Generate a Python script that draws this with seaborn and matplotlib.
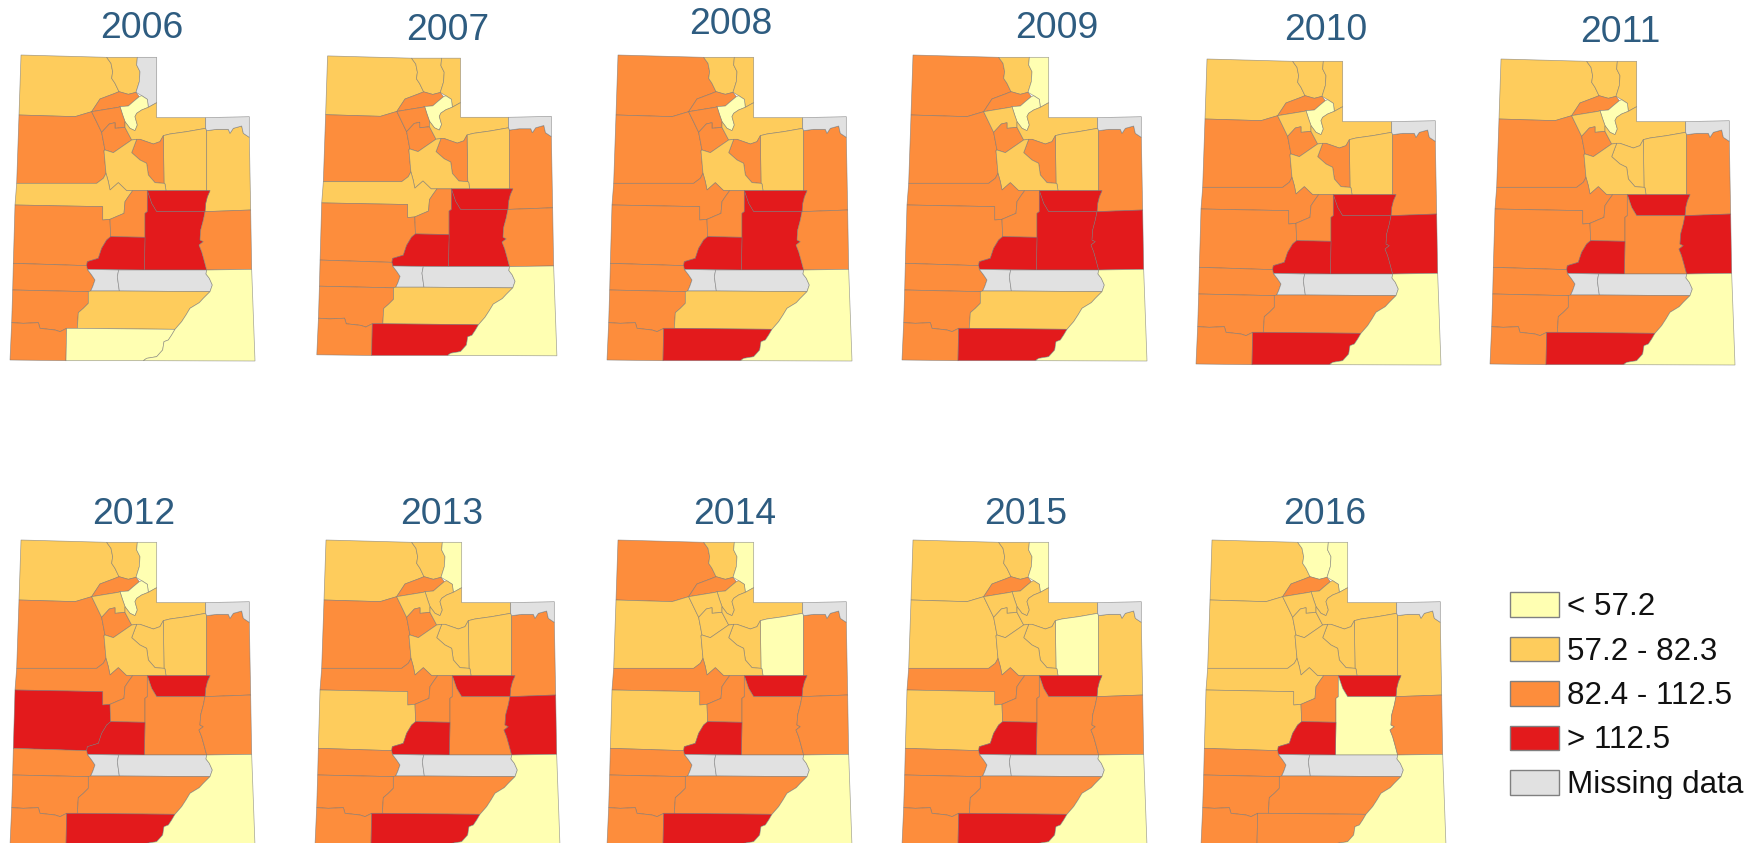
import matplotlib

matplotlib.use("Agg")
import matplotlib.pyplot as plt
import seaborn as sns
from matplotlib.transforms import Bbox

W, H = 1753, 843

years = [2006, 2007, 2008, 2009, 2010, 2011, 2012, 2013, 2014, 2015, 2016]
class_labels = ["< 57.2", "57.2 - 82.3", "82.4 - 112.5", "> 112.5", "Missing data"]
class_colors = ["#ffffb2", "#fecc5c", "#fd8d3c", "#e31a1c", "#e1e1e1"]

# county outlines (3x pixels)
county_names = [
    "box_elder", "cache", "rich", "weber", "davis", "tooele", "west_mid", "utah_w",
    "summit", "duchesne", "uintah", "daggett", "wasatch", "juab", "millard", "beaver",
    "sevier", "carbon", "emery", "grand", "wayne", "iron_a", "iron_b", "iron_c",
    "gray_w", "gray_e", "kane_n", "kane_s", "san_juan",
]
outlines = {
    "box_elder": [(63, 165), (320, 172), (333, 190), (338, 215), (335, 235), (345, 250), (357, 275), (345, 280), (300, 297), (275, 335), (225, 350), (57, 345)],
    "cache": [(320, 172), (412, 172), (410, 195), (420, 215), (418, 245), (408, 277), (385, 283), (357, 275), (345, 250), (335, 235), (338, 215), (333, 190)],
    "rich": [(412, 172), (470, 172), (470, 308), (445, 322), (442, 298), (425, 287), (408, 277), (418, 245), (420, 215), (410, 195)],
    "weber": [(300, 297), (345, 280), (357, 275), (385, 283), (408, 277), (418, 290), (400, 305), (385, 318), (360, 320), (355, 322), (275, 335)],
    "davis": [(360, 320), (385, 318), (400, 305), (418, 290), (425, 287), (442, 298), (445, 322), (425, 330), (410, 340), (405, 350), (412, 375), (405, 392), (390, 385), (375, 365), (368, 345)],
    "tooele": [(57, 345), (225, 350), (275, 335), (305, 397), (315, 450), (312, 452), (318, 520), (310, 535), (290, 550), (50, 550)],
    "west_mid": [(275, 335), (355, 322), (360, 320), (368, 345), (375, 365), (375, 382), (345, 385), (345, 368), (328, 372), (305, 397)],
    "utah_w": [(305, 397), (328, 372), (345, 368), (345, 385), (375, 382), (395, 420), (340, 458), (315, 450)],
    "summit": [(445, 322), (470, 308), (470, 353), (617, 353), (617, 385), (560, 395), (510, 402), (490, 407), (480, 425), (460, 432), (420, 418), (410, 418), (395, 420), (375, 382), (375, 365), (390, 385), (405, 392), (412, 375), (405, 350), (410, 340), (425, 330)],
    "duchesne": [(490, 407), (510, 402), (560, 395), (617, 385), (620, 392), (620, 572), (498, 572), (495, 552), (492, 550)],
    "uintah": [(620, 392), (650, 388), (685, 388), (690, 400), (700, 385), (725, 378), (730, 400), (748, 412), (752, 630), (615, 635), (617, 610), (622, 590), (630, 572), (620, 572)],
    "daggett": [(617, 353), (748, 350), (748, 412), (730, 400), (725, 378), (700, 385), (690, 400), (685, 388), (650, 388), (620, 392), (617, 385)],
    "wasatch": [(410, 418), (420, 418), (460, 432), (480, 425), (490, 407), (492, 550), (465, 548), (445, 525), (440, 490), (420, 480), (395, 458)],
    "juab": [(312, 452), (315, 450), (340, 458), (395, 420), (410, 418), (395, 458), (420, 480), (440, 490), (445, 525), (465, 548), (492, 550), (495, 552), (498, 572), (380, 572), (355, 548), (330, 570), (325, 545), (318, 520)],
    "millard": [(50, 550), (290, 550), (310, 535), (318, 520), (325, 545), (330, 570), (355, 548), (380, 572), (398, 572), (385, 590), (375, 605), (372, 640), (330, 658), (308, 660), (308, 620), (45, 615)],
    "beaver": [(45, 615), (308, 620), (308, 660), (330, 658), (332, 710), (320, 720), (305, 745), (295, 775), (262, 785), (260, 797), (40, 790)],
    "sevier": [(398, 572), (442, 572), (442, 635), (435, 640), (435, 712), (332, 710), (330, 658), (372, 640), (375, 605), (385, 590)],
    "carbon": [(442, 572), (630, 572), (622, 590), (617, 610), (615, 635), (470, 635), (455, 610)],
    "emery": [(442, 572), (455, 610), (470, 635), (615, 635), (610, 660), (602, 690), (600, 720), (610, 725), (597, 735), (605, 755), (612, 780), (620, 810), (433, 810), (435, 712), (435, 640), (442, 635)],
    "grand": [(615, 635), (752, 630), (755, 808), (620, 810), (612, 780), (605, 755), (597, 735), (610, 725), (600, 720), (602, 690), (610, 660)],
    "wayne": [(332, 710), (435, 712), (433, 810), (262, 808), (260, 797), (262, 785), (295, 775), (305, 745), (320, 720)],
    "iron_a": [(40, 790), (260, 797), (262, 808), (275, 825), (285, 840), (278, 860), (272, 873), (265, 875), (38, 870)],
    "iron_b": [(38, 870), (265, 875), (265, 910), (250, 925), (235, 938), (232, 985), (200, 985), (180, 995), (165, 990), (120, 985), (115, 968), (70, 970), (35, 968)],
    "iron_c": [(35, 968), (70, 970), (115, 968), (120, 985), (165, 990), (180, 995), (200, 985), (198, 1082), (30, 1080)],
    "gray_w": [(262, 808), (356, 810), (352, 830), (358, 873), (272, 873), (278, 860), (285, 840), (275, 825)],
    "gray_e": [(356, 810), (433, 810), (620, 810), (618, 822), (628, 835), (637, 855), (630, 875), (358, 873), (352, 830)],
    "kane_n": [(265, 875), (272, 873), (358, 873), (630, 875), (610, 895), (598, 908), (570, 925), (558, 945), (545, 965), (525, 988), (232, 985), (235, 938), (250, 925), (265, 910)],
    "kane_s": [(200, 985), (232, 985), (525, 988), (515, 1005), (505, 1020), (492, 1025), (488, 1050), (470, 1070), (440, 1075), (430, 1082), (198, 1082)],
    "san_juan": [(620, 810), (755, 808), (765, 1083), (430, 1082), (440, 1075), (470, 1070), (488, 1050), (492, 1025), (505, 1020), (515, 1005), (525, 988), (545, 965), (558, 945), (570, 925), (598, 908), (610, 895), (630, 875), (637, 855), (628, 835), (618, 822)],
}

# rate class per county, same order as county_names (0-3 classes, 4 missing)
classes_2006 = [1, 1, 4, 2, 0, 2, 2, 2, 1, 1, 1, 4, 2, 1, 1, 2, 2, 3, 3, 2, 3, 2, 2, 2, 4, 4, 1, 0, 0]
classes_2007 = [1, 1, 1, 2, 0, 2, 2, 2, 1, 1, 2, 4, 2, 1, 1, 2, 2, 3, 3, 2, 3, 2, 2, 2, 4, 4, 1, 3, 0]
classes_2008 = [2, 1, 1, 2, 0, 2, 2, 2, 1, 1, 2, 4, 2, 1, 2, 2, 2, 3, 3, 2, 3, 2, 2, 2, 4, 4, 1, 3, 0]
classes_2009 = [2, 1, 0, 2, 0, 2, 1, 2, 1, 1, 2, 4, 2, 1, 2, 2, 2, 3, 3, 3, 3, 2, 2, 2, 4, 4, 1, 3, 0]
classes_2010 = [1, 1, 1, 2, 0, 2, 1, 2, 1, 1, 2, 4, 2, 1, 2, 2, 2, 3, 3, 3, 3, 2, 2, 2, 4, 4, 2, 3, 0]
classes_2011 = [1, 1, 1, 2, 0, 2, 1, 2, 1, 1, 2, 4, 1, 1, 2, 2, 2, 3, 2, 3, 3, 2, 2, 2, 4, 4, 2, 3, 0]
classes_2012 = [1, 1, 0, 2, 0, 2, 1, 2, 1, 1, 2, 4, 1, 1, 2, 3, 2, 3, 2, 2, 3, 2, 2, 2, 4, 4, 2, 3, 0]
classes_2013 = [1, 1, 0, 2, 1, 2, 1, 2, 1, 1, 2, 4, 1, 1, 2, 1, 2, 3, 2, 3, 3, 2, 2, 2, 4, 4, 2, 3, 0]
classes_2014 = [2, 1, 0, 2, 1, 1, 1, 1, 1, 0, 2, 4, 1, 1, 2, 1, 2, 3, 2, 2, 3, 2, 2, 2, 4, 4, 2, 3, 0]
classes_2015 = [1, 1, 0, 2, 1, 1, 1, 1, 1, 0, 1, 4, 1, 1, 2, 1, 2, 3, 2, 2, 3, 2, 2, 2, 4, 4, 2, 3, 0]
classes_2016 = [1, 0, 0, 2, 1, 1, 1, 1, 1, 1, 1, 4, 1, 1, 1, 1, 2, 3, 0, 2, 3, 2, 2, 2, 4, 4, 2, 2, 0]
year_classes = [
    classes_2006, classes_2007, classes_2008, classes_2009, classes_2010, classes_2011,
    classes_2012, classes_2013, classes_2014, classes_2015, classes_2016,
]

# panel placement in pixels: dx, dy, scale, title x, title y
panels = [
    (0, 0, 1.0, 142, 28),
    (307, 2, 0.98, 448, 30),
    (597, 0, 1.0, 731, 25),
    (892, 0, 1.0, 1057, 29),
    (1186, 4, 1.0, 1326, 31),
    (1480, 4, 1.0, 1620, 32),
    (0, 485, 1.0, 134, 514),
    (305, 485, 1.0, 442, 514),
    (597, 485, 1.0, 735, 514),
    (892, 485, 1.0, 1026, 514),
    (1191, 485, 1.0, 1325, 514),
]

sns.set_theme(style="white")
plt.rcParams["font.family"] = ["Liberation Sans", "DejaVu Sans"]
palette = sns.color_palette(class_colors)

fig = plt.figure(figsize=(W / 100, H / 100), dpi=100)

for year, classes, (dx, dy, scale, tx, ty) in zip(years, year_classes, panels):
    ax = fig.add_axes([dx / W, 1 - (dy + 375 * scale) / H, 270 * scale / W, 375 * scale / H])
    for name, cls in zip(county_names, classes):
        xs, ys = zip(*outlines[name])
        ax.fill(xs, ys, facecolor=palette[cls], edgecolor=(0.45, 0.45, 0.45, 0.65), linewidth=0.5)
    ax.set_xlim(0, 810)
    ax.set_ylim(1125, 0)
    ax.axis("off")
    fig.text(tx / W, 1 - ty / H, str(year), fontsize=26.8, color="#2e5c80", ha="center", va="center")

leg = fig.add_axes([0, 0, 1, 1])
leg.set_xlim(0, W)
leg.set_ylim(H, 0)
leg.axis("off")
leg.patch.set_alpha(0)
for i, label in enumerate(class_labels):
    top = 592 + i * 44.5
    leg.fill([1510, 1559, 1559, 1510], [top, top, top + 24.5, top + 24.5],
             facecolor=palette[i], edgecolor="#808080", linewidth=1.0)
    t = leg.text(1567, top + 15, label, fontsize=22.6, color="#111111", va="center", ha="left")
    if label == "Missing data":
        # descender is cut off in the original
        t.set_clip_on(True)
        t.set_clip_box(Bbox([[1500, H - 799], [W, H - 760]]))

fig.savefig("out.png", dpi=100)
plt.close(fig)
